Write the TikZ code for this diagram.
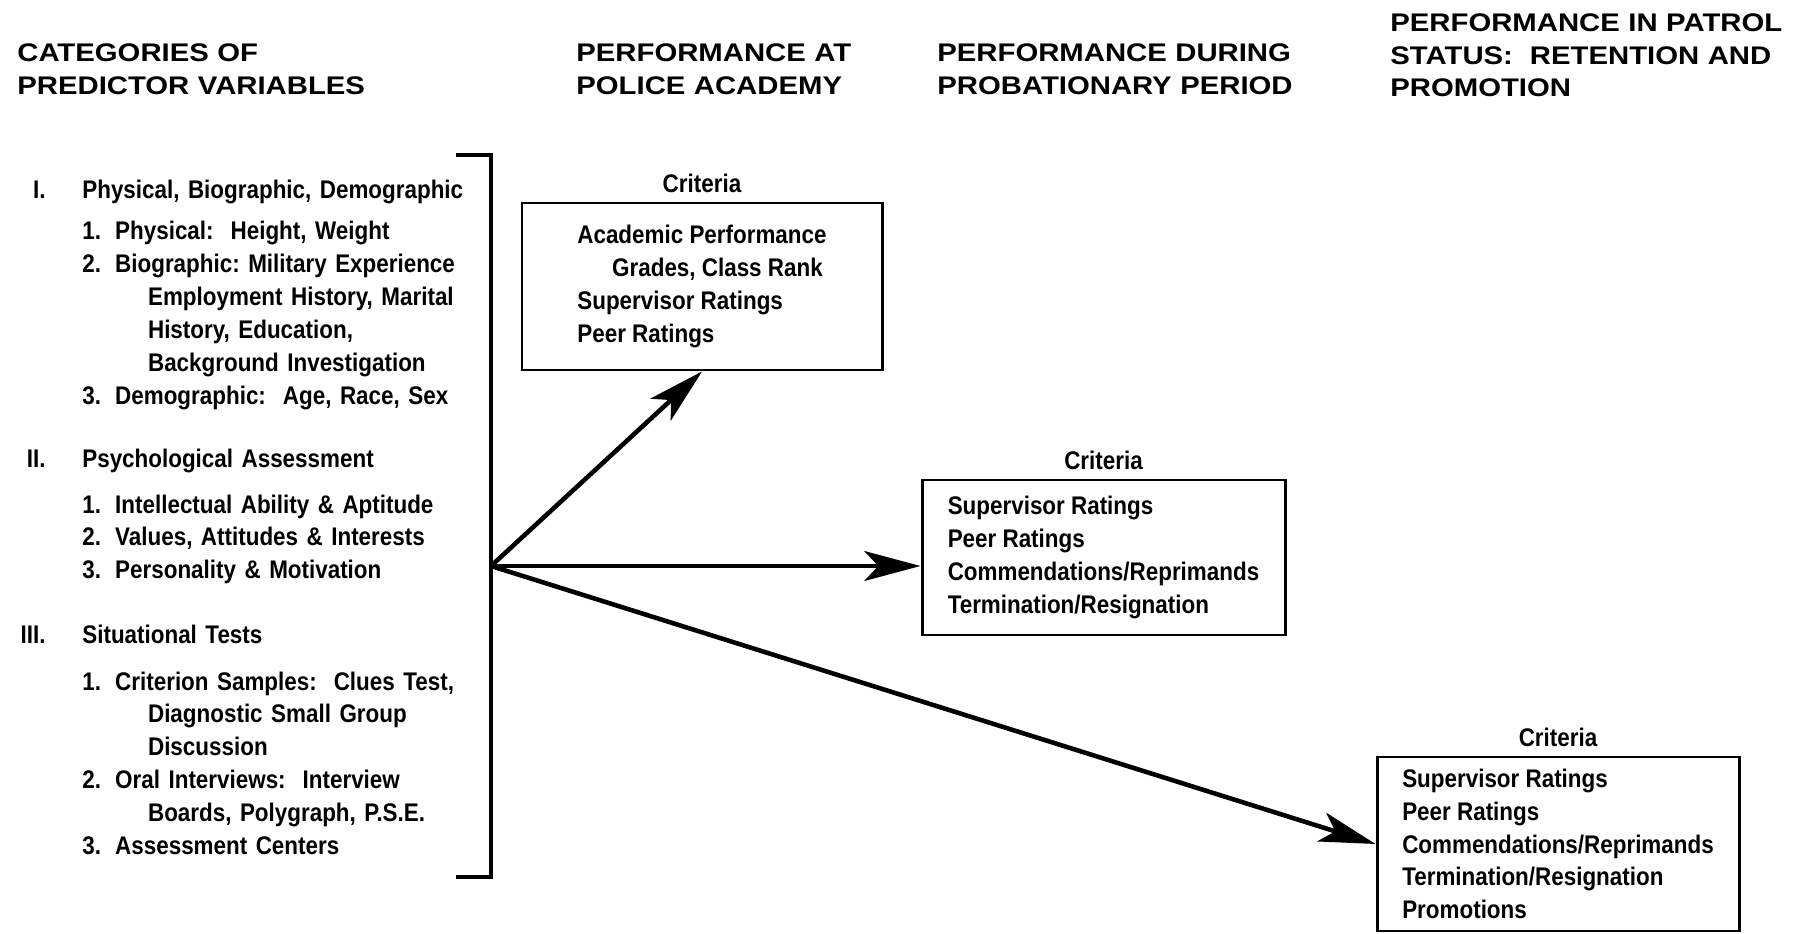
\documentclass[tikz,border=0pt]{standalone}
\usepackage{fontspec}
\usepackage{tikz}
\usetikzlibrary{arrows.meta,positioning}

\newfontfamily\bodyfont[FakeStretch=0.88]{Liberation Sans}
\newfontfamily\headfont[FakeStretch=1.15]{Liberation Sans}
\newcommand{\numbox}[1]{\makebox[18.7pt][l]{#1}}
\newcommand{\wrapline}{\hspace*{37.4pt}}
\frenchspacing

\begin{document}
\begin{tikzpicture}[x=0.2mm, y=-0.2mm,
    head/.style={font=\headfont\bfseries\fontsize{14.5}{18.4}\selectfont, anchor=base west, inner sep=0, text width=240pt, align=left},
    entry/.style={font=\bodyfont\bfseries\fontsize{14.5}{18.7}\selectfont, anchor=base west, inner sep=0, text width=235pt, align=left},
    roman/.style={font=\bodyfont\bfseries\fontsize{14.5}{18.7}\selectfont, anchor=base east, inner sep=0},
    critbox/.style={draw, line width=1.7pt, font=\bodyfont\bfseries\fontsize{14.5}{18.7}\selectfont, align=left, inner sep=0},
    crit/.style={font=\bodyfont\bfseries\fontsize{14.5}{18.7}\selectfont, inner sep=0},
    link/.style={line width=2.6pt, -{Stealth[length=32pt, width=17pt, inset=8pt]}}]
    \useasboundingbox (0,0) rectangle (1819,934);

    \node[head] (hdcat) at (17,62) {CATEGORIES OF\\PREDICTOR VARIABLES};
    \node[head] (hdacad) at (576,62) {PERFORMANCE AT\\POLICE ACADEMY};
    \node[head] (hdprob) at (937,62) {PERFORMANCE DURING\\PROBATIONARY PERIOD};
    \node[head] (hdpatrol) at (1390,32) {PERFORMANCE IN PATROL\\STATUS:\ \ RETENTION AND\\PROMOTION};

    \node[roman] (numI) at (46,199) {I.};
    \node[entry] (physical) at (82,199) {Physical, Biographic, Demographic};
    \node[entry] (physitems) at (82,240) {\numbox{1.}Physical:\ \ Height, Weight\\
        \numbox{2.}Biographic: Military Experience\\
        \wrapline Employment History, Marital\\
        \wrapline History, Education,\\
        \wrapline Background Investigation\\
        \numbox{3.}Demographic:\ \ Age, Race, Sex};

    \node[roman] (numII) at (46,468) {II.};
    \node[entry] (psych) at (82,468) {Psychological Assessment};
    \node[entry] (psychitems) at (82,513) {\numbox{1.}Intellectual Ability \& Aptitude\\
        \numbox{2.}Values, Attitudes \& Interests\\
        \numbox{3.}Personality \& Motivation};

    \node[roman] (numIII) at (46,643) {III.};
    \node[entry] (situ) at (82,643) {Situational Tests};
    \node[entry] (situitems) at (82,690) {\numbox{1.}Criterion Samples:\ \ Clues Test,\\
        \wrapline Diagnostic Small Group\\
        \wrapline Discussion\\
        \numbox{2.}Oral Interviews:\ \ Interview\\
        \wrapline Boards, Polygraph, P.S.E.\\
        \numbox{3.}Assessment Centers};

    \draw[line width=2.8pt] (456,155) -- (491,155) -- (491,877) -- (456,877);
    \coordinate (hub) at (491,566);

    \node[critbox, minimum width=72mm, minimum height=33.4mm] (box1) at (702,286.5) {Academic Performance\\
        \hspace*{19.8pt}Grades, Class Rank\\
        Supervisor Ratings\\
        Peer Ratings};
    \node[critbox, minimum width=72.6mm, minimum height=31mm] (box2) at (1103.5,557.5) {Supervisor Ratings\\
        Peer Ratings\\
        Commendations/Reprimands\\
        Termination/Resignation};
    \node[critbox, minimum width=72.4mm, minimum height=34.8mm] (box3) at (1558,844) {Supervisor Ratings\\
        Peer Ratings\\
        Commendations/Reprimands\\
        Termination/Resignation\\
        Promotions};

    \node[crit, above=5pt of box1] (crit1) {Criteria};
    \node[crit, above=5pt of box2] (crit2) {Criteria};
    \node[crit, above=5pt of box3] (crit3) {Criteria};

    \draw[link] (hub) -- (box1.south);
    \draw[link] (hub) -- (hub -| box2.west);
    \draw[link] (hub) -- (box3.west);
\end{tikzpicture}
\end{document}
